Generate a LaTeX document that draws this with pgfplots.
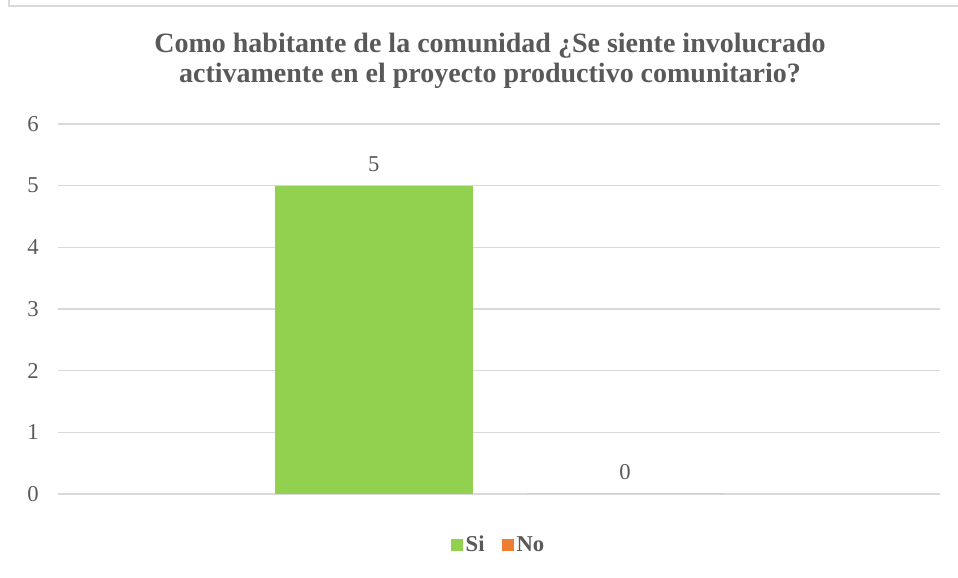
\documentclass[border=0pt]{standalone}
\usepackage{pgfplots}
\pgfplotsset{compat=1.18}
\usepackage{fontspec}
\setmainfont{Liberation Serif}
\definecolor{txt}{HTML}{595959}
\definecolor{grd}{HTML}{D9D9D9}
\definecolor{si}{HTML}{92D050}
\definecolor{no}{HTML}{ED7D31}
\begin{document}
\begin{tikzpicture}[x=0.75pt,y=0.75pt]
\useasboundingbox (0,0) rectangle (958,578);
\draw[grd,line width=1.5pt] (8.5,578) -- (8.5,572) -- (958,572);
\node[txt,font=\bfseries\fontsize{21}{22.5}\selectfont,align=center] at (490,517) {Como habitante de la comunidad ¿Se siente involucrado\\activamente en el proyecto productivo comunitario?};
\begin{axis}[
  at={(43.5pt,63pt)}, anchor=south west,
  width=661.5pt, height=277.5pt, scale only axis,
  ymin=0, ymax=6, xmin=-1, xmax=1,
  ytick={0,1,2,3,4,5,6}, xtick=\empty,
  ymajorgrids, grid style={grd,line width=0.9pt},
  axis line style={draw=none},
  major tick length=0pt,
  /pgf/number format/assume math mode=true,
  tick label style={txt,font=\fontsize{17}{19}\selectfont},
  yticklabel style={xshift=-11pt},
  ybar,
  bar width=0.449,
  nodes near coords,
  nodes near coords style={txt,font=\fontsize{17}{19}\selectfont,yshift=7pt},
  legend columns=2,
  legend style={at={(0.5,-0.137)},anchor=center,draw=none,fill=none,
    font=\bfseries\fontsize{17}{19}\selectfont,text=txt,
    /tikz/every even column/.append style={column sep=11pt}},
  legend image code/.code={\fill[#1] (0pt,-4.5pt) rectangle (9pt,4.5pt);},
]
\addplot[fill=si,draw=none,bar shift=-0.284] coordinates {(0,5)};
\addplot[fill=no,draw=none,bar shift=0.286] coordinates {(0,0)};
\legend{Si,No}
\end{axis}
\end{tikzpicture}
\end{document}
